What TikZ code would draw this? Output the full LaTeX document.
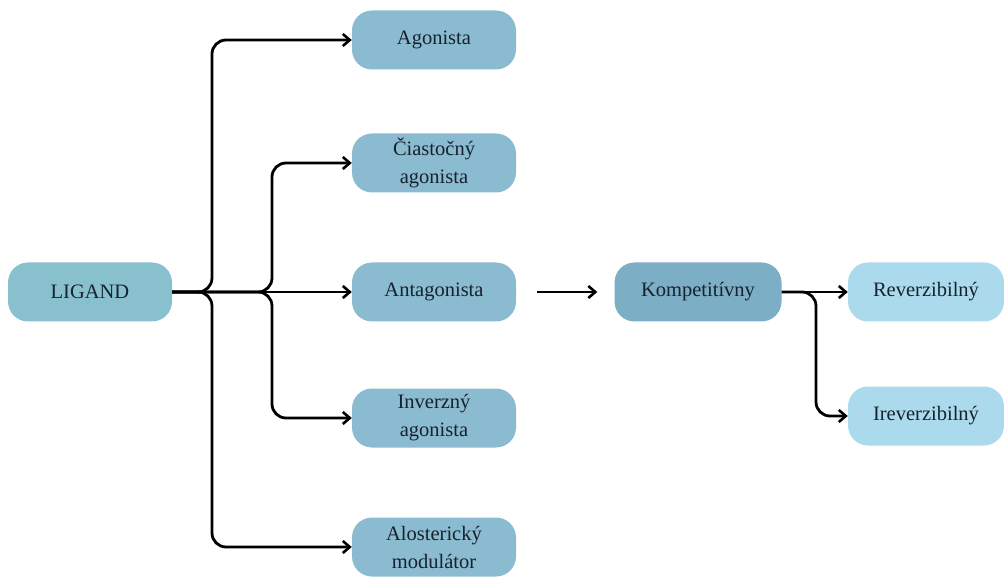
\documentclass[tikz,border=0pt]{standalone}
\usepackage{fontspec}
\setmainfont{Liberation Serif}
\usetikzlibrary{arrows.meta,calc}
\definecolor{ligc}{RGB}{136,192,206}
\definecolor{colc}{RGB}{139,187,208}
\definecolor{kompc}{RGB}{124,174,197}
\definecolor{lightc}{RGB}{170,218,236}
\definecolor{txtc}{RGB}{22,34,46}
\tikzset{
  box/.style={rounded corners=20pt, minimum width=164pt, minimum height=59pt, inner sep=0pt, align=center, text=txtc, font=\fontsize{20.5}{28}\selectfont},
  conn/.style={line width=2.8pt, rounded corners=14pt, -{Straight Barb[length=7pt,width=12pt,line width=2.6pt]}},
}
\begin{document}
\begin{tikzpicture}[x=1pt,y=-1pt]
\useasboundingbox (0,0) rectangle (1004,577);
\node[box, fill=ligc] (lig) at (90,292) {LIGAND};
\node[box, fill=colc] (ago) at (434,40) {Agonista};
\node[box, fill=colc] (cia) at (434,163) {Čiastočný\\agonista};
\node[box, fill=colc] (ant) at (434,292) {Antagonista};
\node[box, fill=colc] (inv) at (434,418) {Inverzný\\agonista};
\node[box, fill=colc] (alo) at (434,547) {Alosterický\\modulátor};
\node[box, fill=kompc, minimum width=167pt] (kom) at (698,292) {Kompetitívny};
\node[box, fill=lightc, minimum width=156pt] (rev) at (926,292) {Reverzibilný};
\node[box, fill=lightc, minimum width=156pt] (irev) at (926,416) {Ireverzibilný};
\coordinate (b1) at (212,0);
\coordinate (b2) at (272,0);
\draw[conn] (lig.east) -- (lig.east -| b1) -- (b1 |- ago.west) -- (ago.west);
\draw[conn] (lig.east) -- (lig.east -| b1) -- (b1 |- alo.west) -- (alo.west);
\draw[conn] (lig.east) -- (lig.east -| b2) -- (b2 |- cia.west) -- (cia.west);
\draw[conn] (lig.east) -- (lig.east -| b2) -- (b2 |- inv.west) -- (inv.west);
\draw[conn] (lig.east) -- (ant.west);
\coordinate (s1) at ($(ant.east)+(21,0)$);
\coordinate (s2) at ($(kom.west)+(-17,0)$);
\draw[conn] (s1) -- (s2);
\coordinate (b3) at (816,0);
\draw[conn] (kom.east) -- (rev.west);
\draw[conn] (kom.east) -- (kom.east -| b3) -- (b3 |- irev.west) -- (irev.west);
\end{tikzpicture}
\end{document}
